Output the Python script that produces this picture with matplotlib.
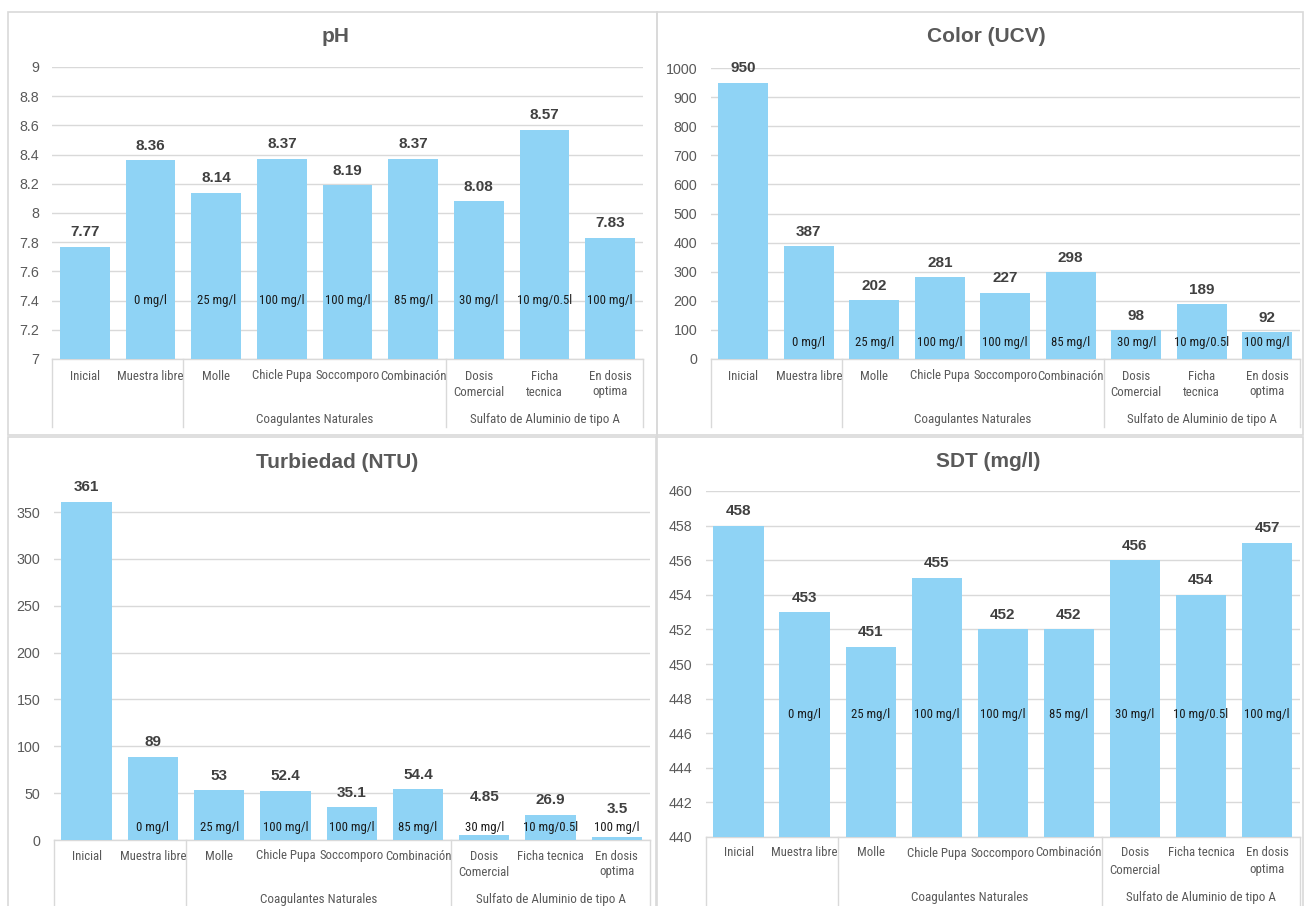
import numpy as np
import matplotlib
matplotlib.use("Agg")
import matplotlib.pyplot as plt
from matplotlib import font_manager as fm
from matplotlib.patches import Rectangle
from matplotlib.transforms import blended_transform_factory

# ---- data -------------------------------------------------------------
categories_top = ["Inicial", "Muestra libre", "Molle", "Chicle Pupa", "Soccomporo",
                  "Combinación", "Dosis\nComercial", "Ficha\ntecnica", "En dosis\noptima"]
categories_bottom = ["Inicial", "Muestra libre", "Molle", "Chicle Pupa", "Soccomporo",
                     "Combinación", "Dosis\nComercial", "Ficha tecnica", "En dosis\noptima"]
doses = ["", "0 mg/l", "25 mg/l", "100 mg/l", "100 mg/l", "85 mg/l",
         "30 mg/l", "10 mg/0.5l", "100 mg/l"]
group_names = ["", "Coagulantes Naturales", "Sulfato de Aluminio de tipo A"]
group_spans = [(0, 1), (2, 5), (6, 8)]

ph = [7.77, 8.36, 8.14, 8.37, 8.19, 8.37, 8.08, 8.57, 7.83]
color_ucv = [950, 387, 202, 281, 227, 298, 98, 189, 92]
turbiedad = [361, 89, 53, 52.4, 35.1, 54.4, 4.85, 26.9, 3.5]
sdt = [458, 453, 451, 455, 452, 452, 456, 454, 457]

# ---- style ------------------------------------------------------------
available = {f.name for f in fm.fontManager.ttflist}
if "Roboto Condensed" in available:
    NARROW, NSCALE = "Roboto Condensed", 1.0
elif "Liberation Sans Narrow" in available:
    NARROW, NSCALE = "Liberation Sans Narrow", 1.0
else:
    NARROW, NSCALE = "Liberation Sans", 0.86
SANS = "Liberation Sans"

BAR = "#8fd3f5"
GRID = "#d9d9d9"
TXT = "#595959"
LBL = "#404040"

W, H = 1304, 906
fig = plt.figure(figsize=(W / 100, H / 100), dpi=100)
fig.patch.set_facecolor("white")

# panel frames (pixel boxes: x0, y0, x1, y1 measured from the top-left)
frames = [(8, 12, 657, 435), (657, 12, 1303, 435),
          (8, 437, 657, 912), (656, 437, 1303, 912)]
for x0, y0, x1, y1 in frames:
    fig.add_artist(Rectangle((x0 / W, 1 - y1 / H), (x1 - x0) / W, (y1 - y0) / H,
                             transform=fig.transFigure, fill=False,
                             edgecolor=GRID, linewidth=1.2))


def panel(rect_px, values, title, ylim, ticks, cats, dose_y, title_xy,
          lab_off=(17, 33, 60), div_len=68, lift=None):
    lift = lift or {}
    x0, y_top, x1, y_bot = rect_px
    ax = fig.add_axes([x0 / W, 1 - y_bot / H, (x1 - x0) / W, (y_bot - y_top) / H])
    x = np.arange(len(values))
    ax.bar(x, values, width=0.76, color=BAR, zorder=3)
    ax.set_xlim(-0.5, len(values) - 0.5)
    ax.set_ylim(*ylim)
    ax.set_yticks(ticks)
    ax.set_yticklabels([f"{t:g}" for t in ticks])
    ax.tick_params(axis="y", length=0, pad=9.5, labelsize=10.3, labelcolor=TXT)
    for lab in ax.get_yticklabels():
        lab.set_fontfamily(SANS)
    ax.set_xticks([])
    ax.yaxis.grid(True, color=GRID, linewidth=1.0, zorder=0)
    ax.set_axisbelow(True)
    for s in ("top", "right", "left"):
        ax.spines[s].set_visible(False)
    ax.spines["bottom"].set_color(GRID)
    ax.spines["bottom"].set_linewidth(1.0)

    # value labels above the bars
    for xi, v in zip(x, values):
        ax.annotate(f"{v:g}", xy=(xi, v), xytext=(0, 14.5 + lift.get(xi, 0)),
                    textcoords="offset pixels", ha="center", va="center",
                    fontsize=11, fontweight="bold", color=LBL, family=SANS, zorder=5)
    # dose labels inside the bars
    for xi, d in zip(x, doses):
        if d:
            ax.text(xi, dose_y, d, ha="center", va="center", fontsize=9.2 * NSCALE,
                    family=NARROW, color="#1a1a1a", zorder=5)

    # multi-level category axis
    tr = blended_transform_factory(ax.transData, ax.transAxes)
    for xi, c in zip(x, cats):
        for k, line in enumerate(c.split("\n")):
            ax.annotate(line, xy=(xi, 0), xycoords=tr, xytext=(0, -lab_off[k]),
                        textcoords="offset pixels", ha="center", va="center",
                        fontsize=9.2 * NSCALE, family=NARROW, color=TXT,
                        annotation_clip=False)
    for name, (a, b) in zip(group_names, group_spans):
        if name:
            ax.annotate(name, xy=((a + b) / 2, 0), xycoords=tr, xytext=(0, -lab_off[2]),
                        textcoords="offset pixels", ha="center", va="center",
                        fontsize=9.4 * NSCALE, family=NARROW, color=TXT,
                        annotation_clip=False)
    ah = y_bot - y_top
    for dx in (-0.5, 1.5, 5.5, len(values) - 0.5):
        ax.plot([dx, dx], [0, -div_len / ah], transform=tr, color=GRID,
                linewidth=1.0, clip_on=False)

    fig.text(title_xy[0] / W, 1 - title_xy[1] / H, title, ha="center", va="center",
             fontsize=15, fontweight="bold", color=TXT, family=SANS)
    return ax


panel((52, 67, 643, 359), ph, "pH", (7, 9),
      np.round(np.arange(7, 9.001, 0.2), 1), categories_top, 7.40, (336, 37))
panel((710.5, 68, 1300, 359), color_ucv, "Color (UCV)", (0, 1000),
      np.arange(0, 1001, 100), categories_top, 55, (986, 37))
panel((53.5, 488.6, 650, 840), turbiedad, "Turbiedad (NTU)", (0, 375),
      np.arange(0, 351, 50), categories_bottom, 13, (337, 462),
      lab_off=(16, 32, 59), div_len=70, lift={6: 24, 8: 13})
panel((705.5, 491, 1300, 837), sdt, "SDT (mg/l)", (440, 460),
      np.arange(440, 461, 2), categories_bottom, 447.1, (988, 461),
      lab_off=(16, 33, 61), div_len=72)

fig.savefig("out.png", dpi=100, facecolor="white")
